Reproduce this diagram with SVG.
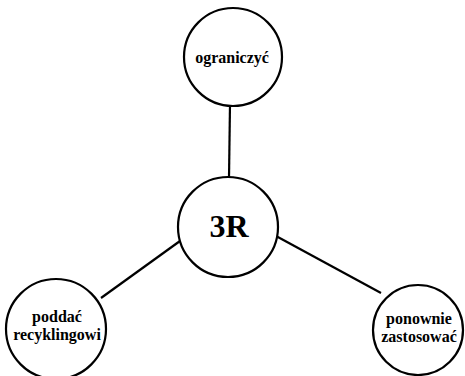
<svg xmlns="http://www.w3.org/2000/svg" width="465" height="376" viewBox="0 0 465 376">
  <style>
    .node circle { fill: #ffffff; stroke: #000000; stroke-width: 2.2; }
    .node text { font-family: "Liberation Serif", "Times New Roman", serif; font-weight: bold; fill: #000000; text-anchor: middle; }
    .lbl { font-size: 16px; }
    .big { font-size: 32px; }
    .edges line { stroke: #000000; stroke-width: 2.2; }
  </style>
  <rect width="465" height="376" fill="#ffffff"/>
  <g id="edges" class="edges">
    <line x1="230" y1="104" x2="229" y2="178"/>
    <line x1="101" y1="298" x2="180" y2="241"/>
    <line x1="276" y1="236" x2="381" y2="293"/>
  </g>
  <g id="node-ograniczyc" class="node">
    <circle cx="233" cy="57" r="49"/>
    <text class="lbl" x="232" y="63">ograniczyć</text>
  </g>
  <g id="node-3r" class="node">
    <circle cx="228" cy="227" r="50"/>
    <text class="big" x="229" y="237">3R</text>
  </g>
  <g id="node-poddac" class="node">
    <circle cx="56" cy="329" r="50"/>
    <text class="lbl" x="57" y="322">poddać</text>
    <text class="lbl" x="57" y="340">recyklingowi</text>
  </g>
  <g id="node-ponownie" class="node">
    <circle cx="418" cy="330" r="45"/>
    <text class="lbl" x="419" y="324">ponownie</text>
    <text class="lbl" x="419" y="342">zastosować</text>
  </g>
</svg>
